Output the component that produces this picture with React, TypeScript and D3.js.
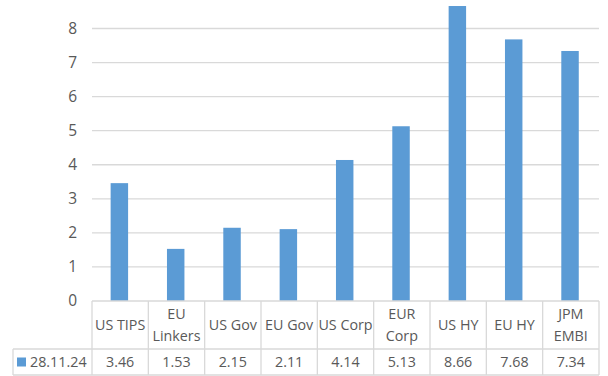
import React from "react";
import * as d3 from "d3";

const categories: string[][] = [
  ["US TIPS"], ["EU", "Linkers"], ["US Gov"], ["EU Gov"], ["US Corp"],
  ["EUR", "Corp"], ["US HY"], ["EU HY"], ["JPM", "EMBI"],
];
const values: number[] = [3.46, 1.53, 2.15, 2.11, 4.14, 5.13, 8.66, 7.68, 7.34];
const valueLabels: string[] = ["3.46", "1.53", "2.15", "2.11", "4.14", "5.13", "8.66", "7.68", "7.34"];
const yTicks: number[] = [0, 1, 2, 3, 4, 5, 6, 7, 8];
const seriesName = "28.11.24";

const W = 608, H = 376;
const left = 92, right = 599, top = 28.5, base = 301;
const rowSplit = 349, bottom = 375, tableLeft = 13;
const FONT = "'Open Sans', sans-serif";
const TEXT = "#595959";
const GRID = "#d9d9d9";
const BAR = "#5b9bd5";

export default function App() {
  const idx = categories.map((_, i) => String(i));
  const x = d3.scaleBand<string>().domain(idx).range([left, right]).paddingInner(0).paddingOuter(0);
  const y = d3.scaleLinear().domain([0, 8]).range([base, top]);
  const bw = x.bandwidth();
  const barW = bw * 0.31;
  const cellCenterY = (base + rowSplit) / 2;
  const dataY = (rowSplit + bottom) / 2;
  const fs = 14.3;
  return (
    <svg width={W} height={H} style={{ position: "absolute", left: 0, top: 0, background: "#fff" }}>
      {yTicks.map((t) => (
        <g key={t}>
          {t > 0 && <line x1={left} x2={right} y1={y(t)} y2={y(t)} stroke={GRID} strokeWidth={1.3} />}
          <text x={77} y={y(t)} dy="0.35em" textAnchor="end" fontFamily={FONT} fontSize={15.5} fill={TEXT}>{t}</text>
        </g>
      ))}
      {values.map((v, i) => (
        <rect key={i} x={(x(String(i)) as number) + bw / 2 - barW / 2 - 0.8} y={y(v)} width={barW} height={base - y(v)} fill={BAR} />
      ))}
      {/* table */}
      <line x1={left} x2={right} y1={base} y2={base} stroke={GRID} strokeWidth={1.3} />
      <line x1={tableLeft} x2={right} y1={rowSplit} y2={rowSplit} stroke={GRID} strokeWidth={1.3} />
      <line x1={tableLeft} x2={right} y1={bottom} y2={bottom} stroke={GRID} strokeWidth={1.3} />
      <line x1={tableLeft} x2={tableLeft} y1={rowSplit} y2={bottom} stroke={GRID} strokeWidth={1.3} />
      {idx.concat([String(idx.length)]).map((k, i) => {
        const xx = i < idx.length ? (x(k) as number) : right;
        return <line key={k} x1={xx} x2={xx} y1={base} y2={bottom} stroke={GRID} strokeWidth={1.3} />;
      })}
      {categories.map((lines, i) => {
        const cx = (x(String(i)) as number) + bw / 2;
        const lh = 22;
        const y0 = cellCenterY - ((lines.length - 1) * lh) / 2;
        return (
          <text key={i} textAnchor="middle" fontFamily={FONT} fontSize={fs} fill={TEXT}>
            {lines.map((l, j) => (
              <tspan key={j} x={cx} y={y0 + j * lh} dy="0.35em">{l}</tspan>
            ))}
          </text>
        );
      })}
      {valueLabels.map((l, i) => (
        <text key={i} x={(x(String(i)) as number) + bw / 2} y={dataY} dy="0.35em" textAnchor="middle" fontFamily={FONT} fontSize={fs} fill={TEXT}>{l}</text>
      ))}
      <rect x={17} y={dataY - 4.5} width={9} height={9} fill={BAR} />
      <text x={30} y={dataY} dy="0.35em" fontFamily={FONT} fontSize={fs} fill={TEXT}>{seriesName}</text>
    </svg>
  );
}
